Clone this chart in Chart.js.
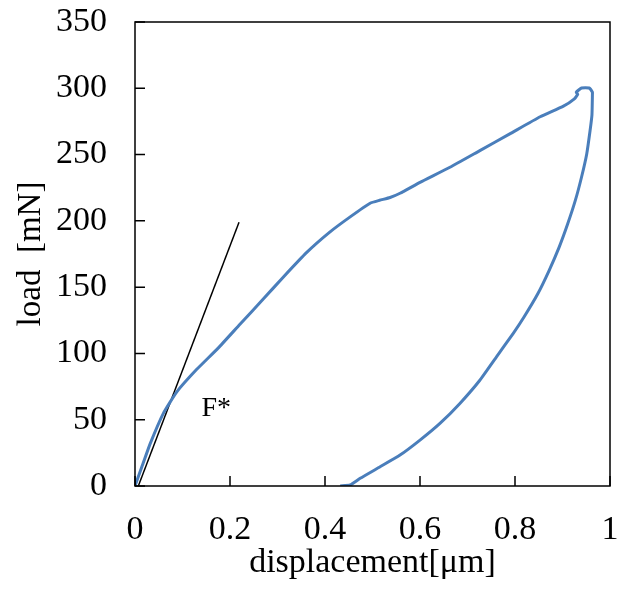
<!DOCTYPE html>
<html>
<head>
<meta charset="utf-8">
<script src="https://cdn.jsdelivr.net/npm/chart.js@4/dist/chart.umd.min.js"></script>
<style>
  html, body { margin: 0; padding: 0; background: #fff; }
  canvas { display: block; }
</style>
</head>
<body>
<canvas id="loadChart" width="621" height="591"></canvas>
<script>
// loading branch (displacement in um, load in mN)
const dispLoading = [0, 0.015, 0.032, 0.06, 0.088, 0.13, 0.175, 0.221, 0.27, 0.312, 0.361, 0.41,
  0.453, 0.495, 0.515, 0.537, 0.558, 0.6, 0.663, 0.726, 0.789, 0.853, 0.902, 0.925, 0.932,
  0.929, 0.94, 0.956, 0.963];
const forceLoading = [0, 15, 32, 55, 71, 88, 104, 122, 141, 157.5, 176, 191.5,
  203, 213.3, 215.5, 217.6, 220.8, 229, 240.4, 253, 265.6, 278.5, 286.5, 292, 295.5,
  297, 300.2, 300.2, 297];

// unloading branch
const dispUnloading = [0.963, 0.962, 0.958, 0.951, 0.94, 0.927, 0.911, 0.893, 0.872, 0.848,
  0.819, 0.796, 0.761, 0.726, 0.684, 0.642, 0.6, 0.558, 0.516, 0.474, 0.453, 0.432];
const forceUnloading = [295.7, 280, 268, 250.5, 232.9, 215.4, 197.8, 180.2, 162.7, 145,
  127.5, 115, 97.4, 79.8, 62.3, 47.2, 34.6, 23.3, 14.5, 5.8, 0.8, 0];

// initial stiffness line
const tangentDisp = [0.007, 0.219];
const tangentForce = [0, 199];

// axis ticks
const xTicks = [0, 0.2, 0.4, 0.6, 0.8, 1];
const yTicks = [0, 50, 100, 150, 200, 250, 300, 350];

// F* label position
const labelText = 'F*';
const labelX = 0.14;
const labelY = 58;

const serif = '"Liberation Serif", "Times New Roman", serif';

function toPoints(xs, ys) {
    return xs.map((v, i) => ({ x: v, y: ys[i] }));
}

// drop the half-label paddings so the plot box sits where the layout says
function fixPadding(s) {
    s.paddingTop = 0;
    s.paddingBottom = 0;
    s.paddingLeft = 0;
    s.paddingRight = 0;
}

// frame, inward tick marks and the F* label
const framePlugin = {
    id: 'frame',
    afterDraw(chart) {
        const { ctx, chartArea: a, scales } = chart;
        const x = scales.x, y = scales.y;
        ctx.save();
        ctx.strokeStyle = '#000';
        ctx.lineWidth = 1.5;
        ctx.strokeRect(a.left, a.top, a.right - a.left, a.bottom - a.top);
        ctx.beginPath();
        xTicks.forEach(v => {
            const px = x.getPixelForValue(v);
            ctx.moveTo(px, a.bottom);
            ctx.lineTo(px, a.bottom - 10);
        });
        yTicks.forEach(v => {
            const py = y.getPixelForValue(v);
            ctx.moveTo(a.left, py);
            ctx.lineTo(a.left + 10, py);
        });
        ctx.stroke();

        ctx.fillStyle = '#000';
        ctx.font = '28px ' + serif;
        ctx.textBaseline = 'middle';
        ctx.textAlign = 'left';
        ctx.fillText(labelText, x.getPixelForValue(labelX), y.getPixelForValue(labelY));
        ctx.restore();
    }
};

const ctx = document.getElementById('loadChart').getContext('2d');

new Chart(ctx, {
    type: 'scatter',
    data: {
        datasets: [
            {
                data: toPoints(dispLoading.concat(dispUnloading), forceLoading.concat(forceUnloading)),
                showLine: true,
                borderColor: '#4A7EBB',
                borderWidth: 3,
                pointRadius: 0,
                tension: 0.15
            },
            {
                data: toPoints(tangentDisp, tangentForce),
                showLine: true,
                borderColor: '#000',
                borderWidth: 1.5,
                pointRadius: 0
            }
        ]
    },
    options: {
        responsive: false,
        animation: false,
        layout: { padding: { top: 22, right: 11, left: 0, bottom: 0 } },
        plugins: {
            legend: { display: false },
            tooltip: { enabled: false }
        },
        scales: {
            x: {
                type: 'linear',
                min: 0,
                max: 1,
                afterBuildTicks: s => { s.ticks = xTicks.map(v => ({ value: v })); },
                afterFit: s => { s.height = 105; fixPadding(s); },
                grid: { display: false, drawTicks: false },
                border: { display: false },
                ticks: {
                    color: '#000',
                    font: { family: serif, size: 34 },
                    padding: 24,
                    maxRotation: 0,
                    callback: v => String(Number(v.toFixed(1)))
                },
                title: {
                    display: true,
                    text: 'displacement[μm]',
                    color: '#000',
                    font: { family: serif, size: 34 },
                    padding: { top: 0, bottom: 8 }
                }
            },
            y: {
                min: 0,
                max: 350,
                afterBuildTicks: s => { s.ticks = yTicks.map(v => ({ value: v })); },
                afterFit: s => { s.width = 135; fixPadding(s); },
                grid: { display: false, drawTicks: false },
                border: { display: false },
                ticks: {
                    color: '#000',
                    font: { family: serif, size: 34 },
                    padding: 28
                },
                title: {
                    display: true,
                    text: 'load  [mN]',
                    color: '#000',
                    font: { family: serif, size: 33 },
                    padding: { top: 12, bottom: 0 }
                }
            }
        }
    },
    plugins: [framePlugin]
});
</script>
</body>
</html>
